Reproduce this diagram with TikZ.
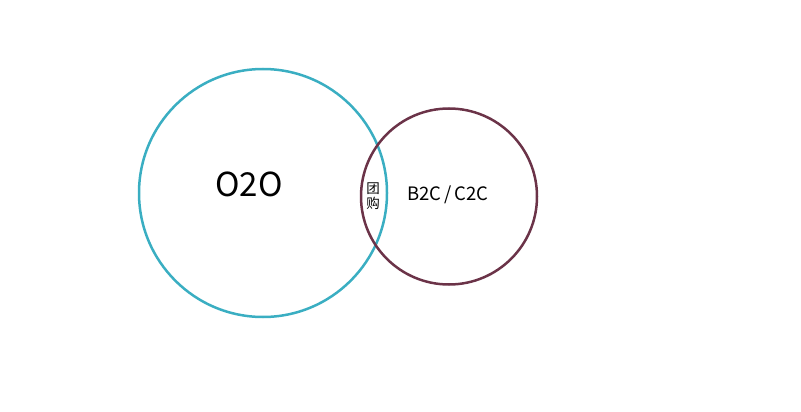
\documentclass[tikz,border=0pt]{standalone}
\usepackage{fontspec}
\newfontfamily\cjk{Noto Sans CJK SC}
\definecolor{otwo}{HTML}{3AAEC2}
\definecolor{btwo}{HTML}{6B3348}
\begin{document}
\begin{tikzpicture}[x=1pt,y=-1pt,
  ring/.style={circle,draw,line width=2.5pt,inner sep=0pt},
  lbl/.style={font=\cjk,text=black,inner sep=0pt}]
\useasboundingbox (0,0) rectangle (801,412);
\node[ring,draw=otwo,minimum size=248pt] (big) at (263,193) {};
\node[ring,draw=btwo,minimum size=176pt] (small) at (449,196.5) {};
\node[lbl,font=\cjk\fontsize{33}{33}\selectfont] (o2o) at (249,184) {O2O};
\node[lbl,font=\cjk\fontsize{18.5}{18.5}\selectfont] (b2c) at (448,195) {B2C\,/\,C2C};
\node[lbl,font=\cjk\fontsize{13.5}{15}\selectfont,align=center] (tg) at (373,196) {团\\购};
\end{tikzpicture}
\end{document}
